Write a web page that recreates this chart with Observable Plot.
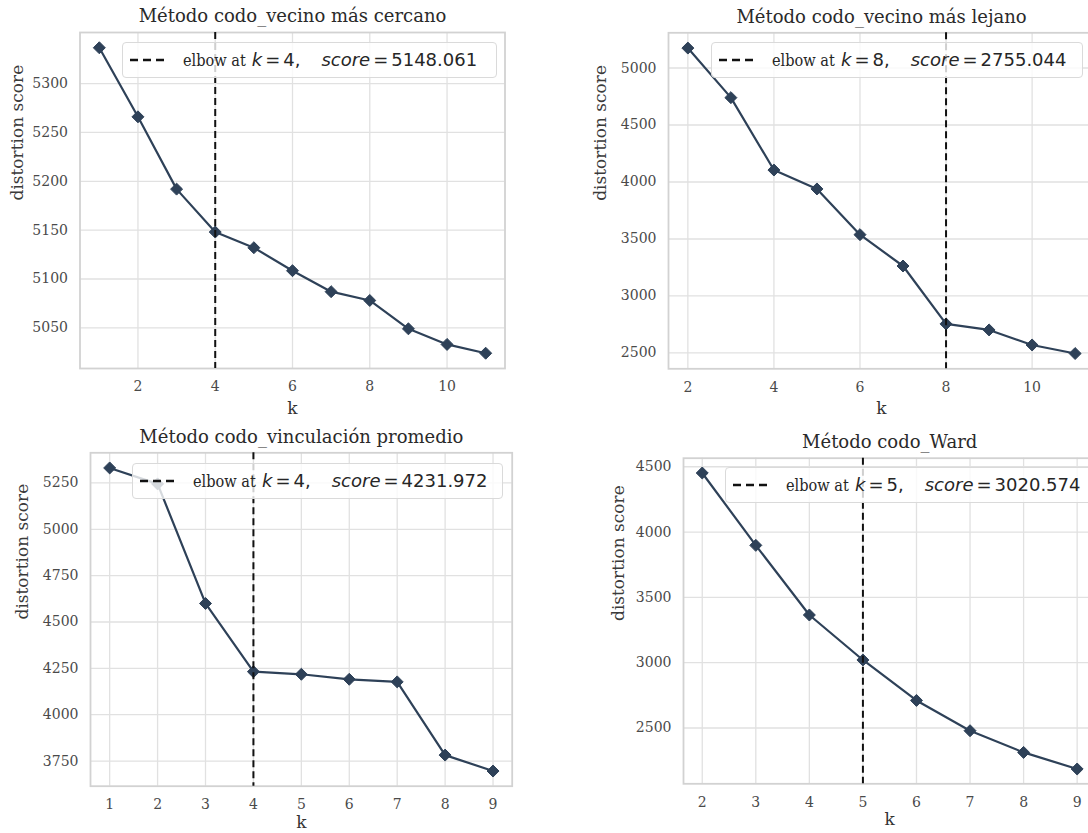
<!DOCTYPE html>
<html>
<head>
<meta charset="utf-8">
<script src="https://cdn.jsdelivr.net/npm/d3@7"></script>
<script src="https://cdn.jsdelivr.net/npm/@observablehq/plot@0.6"></script>
<style>
  html, body { margin: 0; padding: 0; background: #fff; overflow: hidden; width: 1088px; height: 833px; }
  #root { position: relative; width: 1088px; height: 833px; overflow: hidden; background: #fff; }
  .panel { position: absolute; overflow: hidden; }
  .panel svg { display: block; }
  .legend { position: absolute; box-sizing: border-box; height: 36px; background: rgba(255,255,255,0.8);
            border: 1px solid #dadada; border-radius: 4px; white-space: nowrap; }
  .legend svg.sample { position: absolute; left: 6px; top: 0; }
  .legend .txt { position: absolute; left: 60px; top: 0; height: 34px; line-height: 34px; color: #262626; }
  .legend .serif { font-family: "DejaVu Serif", serif; font-size: 17.5px; display: inline-block; width: 63px;
                   transform: scaleX(0.83); transform-origin: 0 50%; }
  .legend .math { font-family: "DejaVu Sans", sans-serif; font-size: 18px; }
  .legend .math i { font-style: italic; }
  .legend .eq { margin: 0 3px; }
</style>
</head>
<body>
<div id="root"></div>
<script>
// ---------------- data ----------------
const titleCercano = "Método codo_vecino más cercano";
const kCercano = [1, 2, 3, 4, 5, 6, 7, 8, 9, 10, 11];
const scoreCercano = [5336.7, 5266, 5192, 5148.061, 5132, 5108.5, 5087, 5078, 5049, 5033, 5024];
const elbowKCercano = 4;
const elbowScoreCercano = "5148.061";
const xTicksCercano = [2, 4, 6, 8, 10];
const yTicksCercano = [5050, 5100, 5150, 5200, 5250, 5300];

const titleLejano = "Método codo_vecino más lejano";
const kLejano = [2, 3, 4, 5, 6, 7, 8, 9, 10, 11];
const scoreLejano = [5175, 4740, 4105, 3939, 3538, 3263, 2755.044, 2702, 2570, 2495];
const elbowKLejano = 8;
const elbowScoreLejano = "2755.044";
const xTicksLejano = [2, 4, 6, 8, 10];
const yTicksLejano = [2500, 3000, 3500, 4000, 4500, 5000];

const titlePromedio = "Método codo_vinculación promedio";
const kPromedio = [1, 2, 3, 4, 5, 6, 7, 8, 9];
const scorePromedio = [5331, 5245, 4600, 4231.972, 4218, 4191, 4177, 3782, 3696];
const elbowKPromedio = 4;
const elbowScorePromedio = "4231.972";
const xTicksPromedio = [1, 2, 3, 4, 5, 6, 7, 8, 9];
const yTicksPromedio = [3750, 4000, 4250, 4500, 4750, 5000, 5250];

const titleWard = "Método codo_Ward";
const kWard = [2, 3, 4, 5, 6, 7, 8, 9];
const scoreWard = [4452, 3898, 3365, 3020.574, 2711, 2479, 2313, 2186];
const elbowKWard = 5;
const elbowScoreWard = "3020.574";
const xTicksWard = [2, 3, 4, 5, 6, 7, 8, 9];
const yTicksWard = [2500, 3000, 3500, 4000, 4500];

const xLabel = "k";
const yLabel = "distortion score";

// ---------------- layout / style ----------------
const LINE = "#2e4158";
const panels = [
  { title: titleCercano, k: kCercano, score: scoreCercano, elbowK: elbowKCercano, elbowScore: elbowScoreCercano,
    xTicks: xTicksCercano, yTicks: yTicksCercano,
    L: { left: 0, top: 0, w: 525, h: 420, fL: 79.5, fR: 504.5, fT: 32, fB: 368, base: 22, titleDy: -16, kDy: 40,
         lgLeft: 121.7, lgTop: 41.7, lgW: 375 } },
  { title: titleLejano, k: kLejano, score: scoreLejano, elbowK: elbowKLejano, elbowScore: elbowScoreLejano,
    xTicks: xTicksLejano, yTicks: yTicksLejano,
    L: { left: 560, top: 0, w: 545, h: 420, fL: 668, fR: 1094, fT: 32.3, fB: 368.3, base: 605, titleDy: -16, kDy: 40,
         lgLeft: 711, lgTop: 41.7, lgW: 372 } },
  { title: titlePromedio, k: kPromedio, score: scorePromedio, elbowK: elbowKPromedio, elbowScore: elbowScorePromedio,
    xTicks: xTicksPromedio, yTicks: yTicksPromedio,
    L: { left: 0, top: 420, w: 530, h: 413, fL: 90, fR: 511.7, fT: 452.3, fB: 785.7, base: 27, titleDy: -15.6, kDy: 36,
         lgLeft: 132, lgTop: 463, lgW: 371 } },
  { title: titleWard, k: kWard, score: scoreWard, elbowK: elbowKWard, elbowScore: elbowScoreWard,
    xTicks: xTicksWard, yTicks: yTicksWard,
    L: { left: 560, top: 420, w: 545, h: 413, fL: 683, fR: 1095.4, fT: 457.7, fB: 783.3, base: 623, titleDy: -16, kDy: 36,
         lgLeft: 725, lgTop: 466.7, lgW: 380 } }
];

const root = document.getElementById("root");

for (const p of panels) {
  const L = p.L;
  const data = p.k.map((k, i) => ({ k, score: p.score[i] }));
  const kExt = d3.extent(p.k), sExt = d3.extent(p.score);
  const kPad = (kExt[1] - kExt[0]) * 0.05, sPad = (sExt[1] - sExt[0]) * 0.05;
  const mL = L.fL - L.left, mT = L.fT - L.top;
  const mR = L.w - (L.fR - L.left), mB = L.h - (L.fB - L.top);
  const labelFs = 17;

  const chart = Plot.plot({
    width: L.w, height: L.h,
    marginLeft: mL, marginTop: mT, marginRight: mR, marginBottom: mB,
    style: { fontFamily: "'DejaVu Serif', serif", fontSize: "14px", color: "#4a4a4a", background: "transparent" },
    x: { domain: [kExt[0] - kPad, kExt[1] + kPad] },
    y: { domain: [sExt[0] - sPad, sExt[1] + sPad] },
    marks: [
      Plot.gridX(p.xTicks, { stroke: "#e1e1e1", strokeOpacity: 1, strokeWidth: 1.3 }),
      Plot.gridY(p.yTicks, { stroke: "#e1e1e1", strokeOpacity: 1, strokeWidth: 1.3 }),
      Plot.frame({ stroke: "#d2d2d2", strokeWidth: 1.8 }),
      Plot.axisX(p.xTicks, { tickSize: 0, tickPadding: 13, label: null, tickFormat: "d" }),
      Plot.axisY(p.yTicks, { tickSize: 0, tickPadding: 12, label: null, tickFormat: "d" }),
      Plot.line(data, { x: "k", y: "score", stroke: LINE, strokeWidth: 2.2 }),
      Plot.dot(data, { x: "k", y: "score", symbol: "diamond2", r: 5.4, fill: LINE, stroke: LINE, strokeWidth: 1 }),
      Plot.ruleX([p.elbowK], { stroke: "#111", strokeWidth: 2, strokeDasharray: "7,4" }),
      Plot.text([p.title], { text: d => d, frameAnchor: "top", lineAnchor: "middle", dy: L.titleDy,
                             fontSize: 18, fill: "#2a2a2a" }),
      Plot.text([xLabel], { text: d => d, frameAnchor: "bottom", lineAnchor: "middle", dy: L.kDy,
                            fontSize: labelFs, fill: "#333" }),
      Plot.text([yLabel], { text: d => d, frameAnchor: "left", rotate: -90, lineAnchor: "bottom",
                            dx: (L.base - L.left) - mL, fontSize: labelFs, fill: "#3a3a3a" })
    ]
  });

  const wrap = document.createElement("div");
  wrap.className = "panel";
  wrap.style.left = L.left + "px";
  wrap.style.top = L.top + "px";
  wrap.style.width = L.w + "px";
  wrap.style.height = L.h + "px";
  wrap.appendChild(chart);
  root.appendChild(wrap);

  // legend (matplotlib-style box)
  const lg = document.createElement("div");
  lg.className = "legend";
  lg.style.left = L.lgLeft + "px";
  lg.style.top = L.lgTop + "px";
  lg.style.width = L.lgW + "px";
  lg.innerHTML =
    `<svg class="sample" width="40" height="34"><line x1="1" x2="39" y1="17" y2="17" stroke="#111" stroke-width="2.4" stroke-dasharray="8,5"/></svg>` +
    `<span class="txt"><span class="serif">elbow at</span>` +
    `<span class="math" style="margin-left:6px"><i>k</i><span class="eq">=</span>${p.elbowK},</span>` +
    `<span class="math" style="margin-left:21px"><i>score</i><span class="eq">=</span>${p.elbowScore}</span></span>`;
  root.appendChild(lg);
}
</script>
</body>
</html>
